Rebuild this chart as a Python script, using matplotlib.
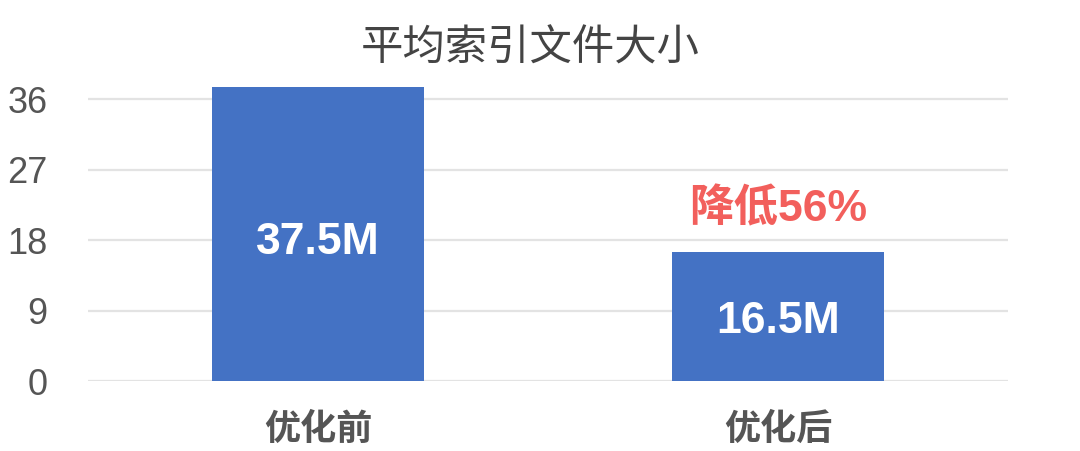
import matplotlib
matplotlib.use('Agg')
import matplotlib.pyplot as plt

categories = ['优化前', '优化后']
sizes = [37.5, 16.5]
bar_labels = ['37.5M', '16.5M']
y_ticks = [0, 9, 18, 27, 36]
note = '降低56%'

plt.rcParams['font.family'] = ['Liberation Sans', 'Noto Sans CJK SC', 'DejaVu Sans']

fig = plt.figure(figsize=(10.8, 4.51), dpi=100)
ax = fig.add_axes([0.0815, 0.155, 0.852, 0.66])

x = range(len(categories))
ax.bar(x, sizes, width=0.46, color='#4472C4', zorder=3)

# labels inside the bars, a bit below the middle
for i, (v, lab) in enumerate(zip(sizes, bar_labels)):
    ax.text(i, v * 0.48 - 0.3, lab, ha='center', va='center', color='white',
            fontsize=32, fontweight='bold', zorder=4)

ax.text(1, sizes[1] + 5.4, note, ha='center', va='center', color='#F25F5C',
        fontsize=32, fontweight='bold')

ax.set_xlim(-0.5, 1.5)
ax.set_ylim(0, 38)
ax.set_yticks(y_ticks)
ax.set_xticks(list(x))
ax.set_xticklabels(categories, fontsize=26, fontweight='bold', color='#555555')
ax.tick_params(axis='y', labelsize=26, labelcolor='#555555', length=0, pad=29)
ax.tick_params(axis='x', length=0, pad=23)
ax.grid(axis='y', color='#E3E3E3', linewidth=1.6, zorder=0)
for s in ax.spines.values():
    s.set_visible(False)

fig.text(0.491, 0.893, '平均索引文件大小', ha='center', va='center',
         fontsize=30.5, color='#444444', family=['Noto Sans CJK SC'])

fig.savefig('out.png', dpi=100)
